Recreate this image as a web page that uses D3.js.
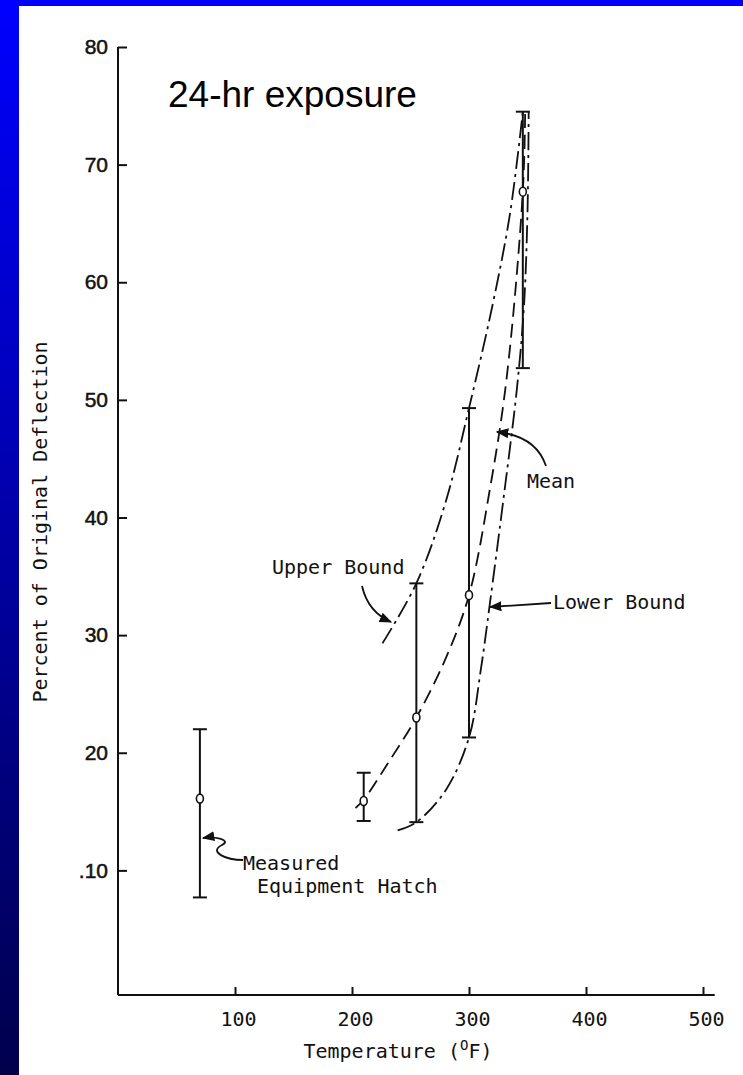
<!DOCTYPE html>
<html>
<head>
<meta charset="utf-8">
<script src="https://cdn.jsdelivr.net/npm/d3@7/dist/d3.min.js"></script>
<style>
  body { margin: 0; background: #fff; }
  svg { display: block; }
  .mono { font-family: "DejaVu Sans Mono", "Liberation Mono", monospace; fill: #111; }
</style>
</head>
<body>
<svg id="chart"></svg>
<script>
var width = 743, height = 1075;

// axis ticks
var yTicks = [10, 20, 30, 40, 50, 60, 70, 80];
var yTickLabels = [".10", "20", "30", "40", "50", "60", "70", "80"];
var xTicks = [100, 200, 300, 400, 500];
var xTickLabels = ["100", "200", "300", "400", "500"];

// measured points with scatter bars (temperature F, mean, low, high)
var barTemp = [70, 210, 255, 300, 346];
var barMean = [16.1, 15.9, 23.0, 33.4, 67.7];
var barLow  = [7.7, 14.2, 14.1, 21.3, 52.7];
var barHigh = [22.0, 18.3, 34.4, 49.3, 74.5];

// fitted curves
var upperTemp = [226, 255, 280, 300, 320, 335, 346];
var upperVal  = [29.3, 34.4, 41.3, 49.3, 58.0, 65.8, 74.5];
var meanTemp  = [203, 210, 230, 255, 280, 300, 318, 332, 346, 348];
var meanVal   = [15.3, 16.0, 19.0, 23.0, 28.0, 33.4, 42.5, 51.7, 67.7, 74.5];
var lowerTemp = [239, 255, 280, 300, 310, 318, 330, 341, 347, 350, 351];
var lowerVal  = [13.4, 14.1, 16.8, 21.3, 27.0, 32.8, 42.0, 51.0, 58.0, 66.0, 74.5];

var svg = d3.select("#chart").attr("width", width).attr("height", height);

// blue slide frame
var defs = svg.append("defs");
var grad = defs.append("linearGradient").attr("id", "side")
    .attr("x1", 0).attr("y1", 0).attr("x2", 0).attr("y2", 1);
grad.append("stop").attr("offset", "0%").attr("stop-color", "#0000ff");
grad.append("stop").attr("offset", "100%").attr("stop-color", "#00004c");
svg.append("rect").attr("width", width).attr("height", height).attr("fill", "#fff");
svg.append("rect").attr("x", 0).attr("y", 0).attr("width", width).attr("height", 6).attr("fill", "#0000ff");
svg.append("rect").attr("x", 0).attr("y", 0).attr("width", 19).attr("height", height).attr("fill", "url(#side)");

defs.append("marker").attr("id", "head")
    .attr("viewBox", "0 0 10 10").attr("refX", 9).attr("refY", 5)
    .attr("markerWidth", 7).attr("markerHeight", 7).attr("orient", "auto")
  .append("path").attr("d", "M0,1 L10,5 L0,9 Z").attr("fill", "#111");

var x = d3.scaleLinear().domain([0, 500]).range([118, 703]);
var y = d3.scaleLinear().domain([0, 80]).range([988, 47]);
var axisY = y(0) + 7;

// y axis
var gy = svg.append("g").attr("transform", "translate(" + x(0) + ",0)")
    .call(d3.axisLeft(y).tickValues(yTicks)
      .tickFormat(function(d, i) { return yTickLabels[i]; })
      .tickSizeInner(-9).tickSizeOuter(0).tickPadding(10));
gy.select(".domain").remove();
gy.selectAll(".tick line").attr("stroke", "#111").attr("stroke-width", 2);
gy.selectAll(".tick text")
    .attr("font-family", "'Liberation Sans', Arial, sans-serif")
    .attr("font-size", 21).attr("fill", "#111")
    .attr("stroke", "#111").attr("stroke-width", 0.5);
svg.append("line").attr("x1", x(0)).attr("x2", x(0))
    .attr("y1", y(80)).attr("y2", axisY)
    .attr("stroke", "#111").attr("stroke-width", 2);

// x axis
var gx = svg.append("g").attr("transform", "translate(0," + axisY + ")")
    .call(d3.axisBottom(x).tickValues(xTicks)
      .tickFormat(function(d, i) { return xTickLabels[i]; })
      .tickSizeInner(-8).tickSizeOuter(0).tickPadding(17));
gx.select(".domain").remove();
gx.selectAll(".tick line").attr("stroke", "#111").attr("stroke-width", 2);
gx.selectAll(".tick text").attr("class", "mono").attr("font-size", 20).attr("dx", 3);
svg.append("line").attr("x1", x(0)).attr("x2", x(510))
    .attr("y1", axisY).attr("y2", axisY)
    .attr("stroke", "#111").attr("stroke-width", 2);

// axis titles
var xt = svg.append("text").attr("class", "mono").attr("font-size", 20)
    .attr("x", 398).attr("y", 1058).attr("text-anchor", "middle");
xt.append("tspan").text("Temperature (");
xt.append("tspan").attr("font-size", 14).attr("dy", -8).text("O");
xt.append("tspan").attr("dy", 8).text("F)");

svg.append("text").attr("class", "mono").attr("font-size", 20)
    .attr("transform", "translate(47,522) rotate(-90)")
    .attr("text-anchor", "middle")
    .text("Percent of Original Deflection");

svg.append("text").attr("x", 168).attr("y", 107)
    .attr("font-family", "'Liberation Sans', Arial, sans-serif")
    .attr("font-size", 37).attr("fill", "#000")
    .text("24-hr exposure");

// curves
function curve(ts, vs, dash) {
  var pts = ts.map(function(t, i) { return [t, vs[i]]; });
  var line = d3.line().x(function(d) { return x(d[0]); })
      .y(function(d) { return y(d[1]); }).curve(d3.curveCatmullRom.alpha(0.5));
  svg.append("path").datum(pts).attr("d", line)
      .attr("fill", "none").attr("stroke", "#111").attr("stroke-width", 1.8)
      .attr("stroke-dasharray", dash);
}
curve(upperTemp, upperVal, "18,5,3,5");
curve(meanTemp, meanVal, "14,7");
curve(lowerTemp, lowerVal, "18,5,3,5");

// scatter bars
var bars = svg.append("g").selectAll("g").data(barTemp).enter().append("g");
bars.append("line")
    .attr("x1", function(d) { return x(d); }).attr("x2", function(d) { return x(d); })
    .attr("y1", function(d, i) { return y(barHigh[i]); })
    .attr("y2", function(d, i) { return y(barLow[i]); })
    .attr("stroke", "#111").attr("stroke-width", 2);
bars.append("line")
    .attr("x1", function(d) { return x(d) - 7; }).attr("x2", function(d) { return x(d) + 7; })
    .attr("y1", function(d, i) { return y(barHigh[i]); })
    .attr("y2", function(d, i) { return y(barHigh[i]); })
    .attr("stroke", "#111").attr("stroke-width", 2);
bars.append("line")
    .attr("x1", function(d) { return x(d) - 7; }).attr("x2", function(d) { return x(d) + 7; })
    .attr("y1", function(d, i) { return y(barLow[i]); })
    .attr("y2", function(d, i) { return y(barLow[i]); })
    .attr("stroke", "#111").attr("stroke-width", 2);
bars.append("ellipse")
    .attr("cx", function(d) { return x(d); })
    .attr("cy", function(d, i) { return y(barMean[i]); })
    .attr("rx", 3.5).attr("ry", 4.5)
    .attr("fill", "#fff").attr("stroke", "#111").attr("stroke-width", 1.6);

// annotations
function note(tx, ty, lines) {
  lines.forEach(function(s, i) {
    svg.append("text").attr("class", "mono").attr("font-size", 20)
        .attr("x", tx[i]).attr("y", ty[i]).text(s);
  });
}
note([272], [574], ["Upper Bound"]);
note([527], [488], ["Mean"]);
note([553], [609], ["Lower Bound"]);
note([243, 257], [870, 893], ["Measured", "Equipment Hatch"]);

function arrow(d) {
  svg.append("path").attr("d", d).attr("fill", "none")
      .attr("stroke", "#111").attr("stroke-width", 1.8)
      .attr("marker-end", "url(#head)");
}
arrow("M362,586 Q368,612 391,622");
arrow("M546,466 Q536,436 497,432");
arrow("M551,603 L490,607");
arrow("M243,860 C226,860 208,852 222,845 C232,840 215,836 203,838");
</script>
</body>
</html>
